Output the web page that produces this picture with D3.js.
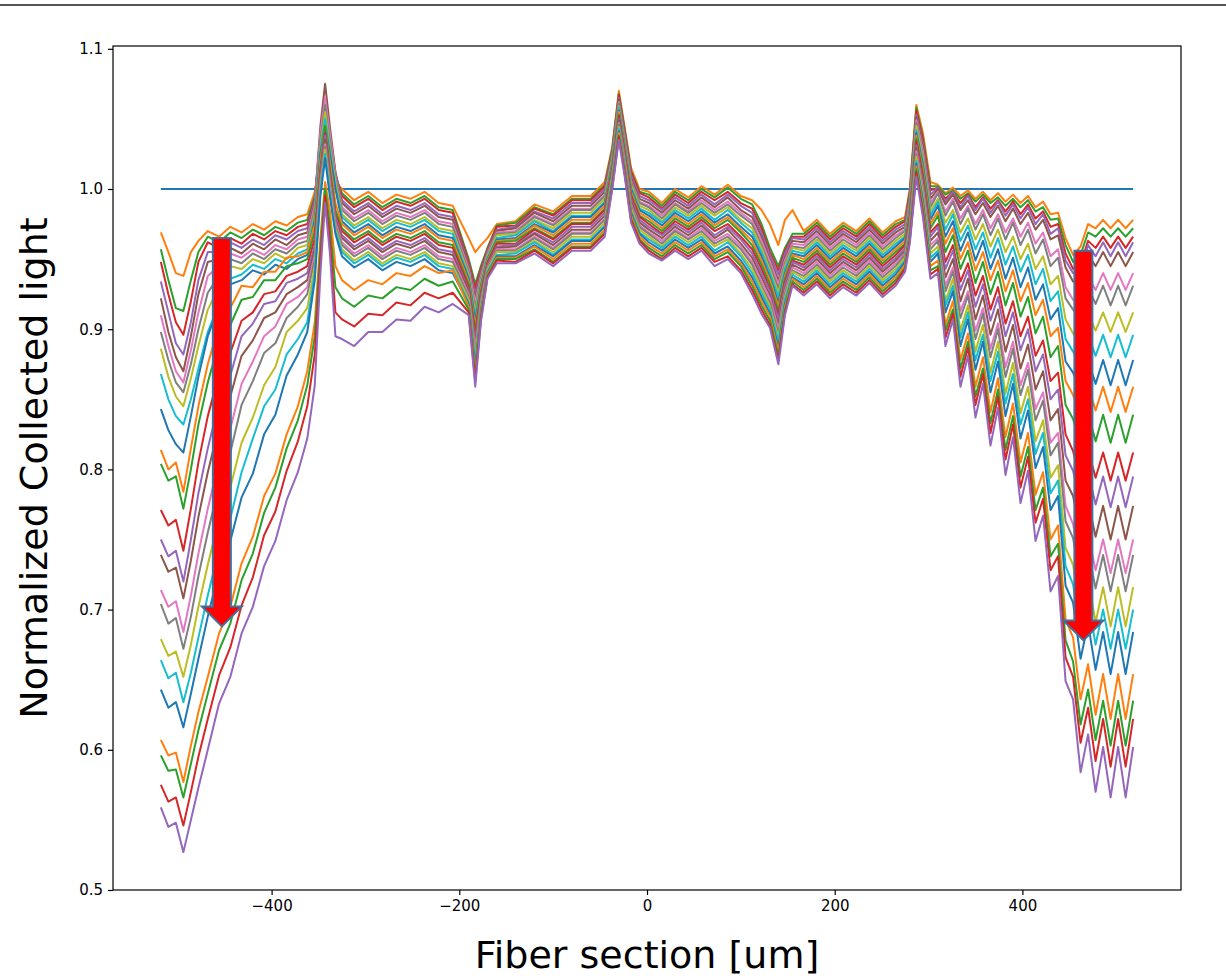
<!DOCTYPE html>
<html>
<head>
	<meta charset="utf-8">
	<title>Normalized Collected light</title>
	<style type="text/css">
body {
	margin: 0;
	background-color: white;
}

#chart {
	width: 1226px;
	height: 978px;
}

.scan {
	fill: none;
	stroke-width: 2px;
	stroke-linejoin: round;
}

.axis line {
	stroke: black;
	stroke-width: 1.2px;
}

.label {
	font-family: "DejaVu Sans", sans-serif;
	font-size: 38px;
	fill: black;
}
	</style>
</head>
<body>
	<div id="chart"></div>
	<script src="https://d3js.org/d3.v7.min.js"></script>

	<script type="text/javascript">

// position along the fiber section, um
var fiberX = [-518,-510,-502,-494,-486,-478,-468,-456,-444,-432,-420,-408,-396,-384,-372,-362,-354,-348,-343,-338,-332,
	-325,-312,-297,-282,-267,-252,-237,-222,-207,
	-190,-183,-177,-170,
	-160,-140,-120,-100,-80,-60,
	-45,-37,-30,-24,-17,-8,
	2,16,30,44,58,72,86,100,112,
	122,131,140,147,155,
	167,181,195,209,223,237,251,265,275,
	280,287,294,302,
	310,318,326,334,342,350,358,366,374,382,390,398,406,414,422,430,438,446,454,462,470,478,486,494,502,510,518];

// normalized collected light of each scan, in thousandths
var scan01 = [969,955,940,938,955,963,970,966,973,969,975,971,977,974,980,982,998,1025,1040,1025,1005,
	1000,992,998,990,996,993,998,990,988, 965,955,960,965, 975,977,989,984,995,995,
	1005,1030,1070,1045,1015,1000, 998,990,1000,994,1002,996,1003,995,992, 985,975,960,978,985,
	970,978,968,976,970,979,969,977,980, 1000,1060,1040,1005,
	1003,997,1001,995,999,993,998,992,997,991,996,990,995,987,991,982,983,965,953,959,975,972,978,972,978,972,978];
var scan02 = [957,935,915,913,935,955,966,962,969,965,971,967,973,970,976,978,995,1030,1050,1030,1008,
	997,989,995,987,993,990,995,987,985, 950,932,945,958, 974,976,987,982,993,993,
	1003,1029,1068,1043,1013,998, 996,988,998,992,1000,994,1001,993,989, 975,958,945,958,968,
	968,976,966,974,968,977,967,975,978, 998,1058,1037,1002,
	1002,996,999,993,997,991,996,990,994,988,993,987,992,984,987,978,979,960,948,953,969,966,972,966,972,966,972];
var scan03 = [948,925,905,896,920,948,962,958,965,961,968,964,970,967,973,975,993,1035,1058,1035,1010,
	995,987,993,985,991,988,993,985,983, 948,929,943,957, 973,974,986,981,992,992,
	1002,1027,1067,1042,1012,997, 994,986,996,990,998,992,998,990,986, 972,955,942,956,966,
	966,974,964,972,966,975,965,973,977, 997,1056,1035,999,
	1001,993,998,990,996,987,994,986,992,984,991,982,989,979,984,973,975,954,943,946,963,958,966,958,966,958,966];
var scan04 = [934,912,890,882,905,935,955,955,962,958,964,960,967,964,970,972,992,1040,1062,1040,1012,
	992,984,990,982,988,985,990,982,980, 946,925,941,956, 971,973,984,979,990,990,
	1000,1026,1065,1040,1010,995, 992,985,994,988,996,989,996,988,983, 969,953,939,954,965,
	964,972,962,970,964,973,963,971,975, 995,1053,1032,996,
	1001,991,998,987,995,985,993,983,991,981,989,979,987,975,982,968,972,949,940,940,960,952,962,952,962,952,962];
var scan05 = [922,898,880,870,895,925,948,950,958,954,961,957,964,960,967,969,990,1045,1075,1045,1012,
	990,982,988,980,986,983,988,980,978, 945,922,940,955, 970,972,983,977,988,988,
	998,1025,1064,1039,1008,993, 990,983,992,986,994,987,994,985,980, 966,950,935,951,963,
	962,970,960,968,962,971,961,969,973, 993,1051,1030,993,
	1000,989,996,985,992,982,990,980,988,977,986,975,983,971,978,964,967,944,934,934,953,945,955,945,955,945,955];
var scan06 = [910,888,870,862,885,912,938,945,954,951,957,953,960,957,964,966,988,1040,1065,1040,1010,
	987,979,985,977,983,980,985,977,975, 943,919,938,954, 969,970,981,975,986,986,
	996,1023,1062,1037,1006,991, 988,981,990,984,992,985,991,983,977, 963,948,932,949,961,
	960,968,958,966,960,969,959,967,971, 991,1049,1027,990,
	998,984,993,979,988,975,985,972,982,969,979,966,976,961,969,952,957,930,921,918,938,928,940,928,940,928,940];
var scan07 = [898,878,862,855,875,900,926,938,950,947,954,950,957,954,961,963,985,1035,1060,1035,1008,
	985,977,983,975,981,978,983,975,973, 941,915,936,953, 968,969,980,974,985,985,
	995,1022,1061,1036,1005,990, 987,979,989,983,990,983,989,981,975, 960,945,929,947,959,
	958,966,956,964,958,967,957,965,970, 990,1047,1024,987,
	997,981,991,975,986,971,982,967,979,964,976,960,971,954,964,945,951,922,914,908,930,918,931,917,931,917,931];
var scan08 = [886,866,852,845,865,888,914,930,945,943,950,947,954,950,958,960,982,1030,1055,1030,1005,
	982,974,980,972,978,975,980,972,970, 939,912,934,952, 967,968,978,972,983,983,
	993,1021,1059,1034,1003,988, 985,977,987,981,988,981,987,978,972, 958,942,926,945,958,
	956,964,954,962,956,965,955,963,968, 988,1045,1022,984,
	993,976,985,969,979,964,975,959,971,955,966,950,961,943,952,932,938,907,897,891,911,899,912,898,912,898,912];
var scan09 = [868,850,838,832,850,872,898,918,936,939,946,943,950,947,954,957,980,1028,1050,1028,1002,
	980,972,978,970,976,973,978,970,968, 937,909,932,951, 965,967,977,970,981,981,
	991,1020,1058,1033,1001,986, 983,976,985,979,986,978,985,976,969, 955,940,923,943,956,
	954,962,952,960,954,963,953,961,966, 986,1042,1019,981,
	991,971,982,963,974,957,969,951,965,946,959,941,953,932,943,920,927,893,884,874,896,881,896,880,896,880,896];
var scan10 = [843,828,818,812,838,866,895,917,932,935,942,939,946,943,950,953,978,1025,1045,1025,1000,
	977,969,975,967,973,970,975,967,965, 936,906,931,950, 964,965,975,969,980,980,
	990,1018,1056,1031,1000,985, 981,974,983,977,984,976,982,973,966, 952,937,919,940,954,
	952,960,950,958,952,961,951,959,965, 985,1040,1017,978,
	988,966,977,956,969,949,963,943,957,936,951,930,944,921,932,907,915,877,869,855,878,861,878,860,878,860,878];
var scan11 = [814,800,805,784,815,845,875,903,915,931,930,941,941,951,952,955,975,1020,1045,1020,990,
	975,967,973,965,971,968,973,965,963, 934,902,929,949, 963,964,974,967,978,978,
	988,1017,1055,1030,998,983, 979,972,981,975,982,974,980,971,963, 949,935,916,938,953,
	950,958,948,956,950,959,949,957,963, 983,1038,1014,975,
	984,961,972,950,962,942,955,935,949,927,942,920,933,910,921,895,901,863,853,838,860,842,859,841,859,841,859];
var scan12 = [804,792,795,772,800,832,862,891,903,921,923,935,935,945,947,950,970,1015,1045,1015,985,
	972,964,970,962,968,965,970,962,960, 932,899,927,948, 962,963,972,965,976,976,
	986,1016,1053,1028,996,981, 977,970,979,973,980,972,978,969,960, 946,932,913,936,951,
	948,956,946,954,948,957,947,955,961, 981,1036,1011,972,
	981,955,967,943,956,933,948,925,941,917,933,909,923,897,909,880,888,846,836,818,840,820,839,819,839,819,839];
var scan13 = [771,760,764,742,772,805,838,868,883,906,912,925,927,938,941,945,965,1012,1040,1012,982,
	970,962,968,960,966,963,968,960,958, 930,896,925,947, 961,961,971,964,975,975,
	985,1014,1052,1027,995,980, 975,968,977,971,978,970,975,966,957, 943,929,910,934,949,
	946,954,944,952,946,955,945,953,960, 980,1034,1009,969,
	975,948,960,934,947,924,938,914,930,904,920,895,909,881,892,863,869,825,813,793,814,794,812,792,812,792,812];
var scan14 = [750,738,742,720,750,783,815,848,867,895,904,918,920,933,936,940,960,1010,1038,1010,980,
	967,959,965,957,963,960,965,957,955, 928,892,923,946, 959,960,969,962,973,973,
	983,1013,1050,1025,993,978, 973,967,975,969,976,967,973,964,954, 940,927,907,932,948,
	944,952,942,950,944,953,943,951,958, 978,1031,1006,966,
	973,943,956,928,942,916,932,906,923,895,912,885,900,870,882,850,857,810,799,775,798,775,795,773,795,773,795];
var scan15 = [739,727,730,708,735,766,798,831,852,881,892,908,912,925,930,935,957,1008,1035,1008,978,
	965,957,963,955,961,958,963,955,953, 927,889,922,945, 958,959,968,960,971,971,
	981,1012,1049,1024,991,976, 971,965,973,967,974,965,971,961,951, 937,924,903,929,946,
	942,950,940,948,942,951,941,949,956, 976,1029,1004,963,
	969,937,950,920,936,907,924,896,914,884,903,872,889,857,870,835,843,792,781,754,777,752,774,750,774,750,774];
var scan16 = [714,702,706,684,710,740,772,806,829,861,877,895,902,918,923,930,953,1005,1032,1005,976,
	962,954,960,952,958,955,960,952,950, 925,886,920,944, 957,957,966,958,969,969,
	979,1010,1047,1022,989,974, 969,963,971,965,972,963,968,959,948, 934,922,900,927,944,
	940,948,938,946,940,949,939,947,954, 974,1027,1001,960,
	965,931,944,913,927,899,915,886,904,873,891,860,876,843,855,819,826,774,761,732,754,728,750,726,750,726,750];
var scan17 = [704,690,694,672,695,724,755,789,812,846,863,883,890,908,916,925,950,1002,1030,1002,974,
	960,952,958,950,956,953,958,950,948, 923,882,918,943, 956,956,965,957,968,968,
	978,1009,1046,1021,988,973, 968,961,970,964,970,961,966,957,946, 931,919,897,925,942,
	938,946,936,944,938,947,937,945,953, 973,1025,998,957,
	963,927,941,908,924,893,911,880,900,866,886,853,871,835,849,810,819,763,751,720,743,715,739,713,739,713,739];
var scan18 = [679,667,670,652,675,702,732,765,787,819,837,860,873,898,906,915,945,1000,1028,1000,972,
	957,949,955,947,953,950,955,947,945, 921,879,916,942, 955,955,963,955,966,966,
	976,1008,1044,1019,986,971, 966,959,968,962,968,959,964,954,943, 929,916,894,923,941,
	936,944,934,942,936,945,935,943,951, 971,1023,996,954,
	959,920,936,899,917,884,903,869,891,854,876,840,859,820,835,794,803,744,732,697,721,691,716,688,716,688,716];
var scan19 = [664,651,655,634,655,680,710,743,765,798,822,845,857,882,893,905,940,998,1025,998,970,
	955,947,953,945,951,948,953,945,943, 919,876,914,941, 953,954,962,953,964,964,
	974,1007,1043,1018,984,969, 964,958,966,960,966,956,962,952,940, 926,914,891,921,939,
	934,942,932,940,934,943,933,941,949, 969,1020,993,951,
	956,917,931,894,912,878,896,863,884,847,868,832,850,811,826,783,792,731,718,682,706,675,700,672,700,672,700];
var scan20 = [643,630,634,616,640,665,695,728,749,780,797,825,839,867,882,898,935,995,1022,995,968,
	952,944,950,942,948,945,950,942,940, 918,873,913,940, 952,952,960,952,963,963,
	973,1005,1041,1016,983,968, 962,956,964,958,964,954,959,949,937, 923,911,887,918,937,
	932,940,930,938,932,941,931,939,948, 968,1018,991,948,
	954,912,927,888,907,871,891,855,877,838,861,822,842,801,816,771,781,717,705,665,690,657,684,654,684,654,684];
var scan21 = [607,596,598,577,603,627,652,683,702,733,752,781,797,825,845,870,905,965,1005,985,945,
	935,928,935,932,940,938,945,940,942, 916,869,911,939, 951,951,959,950,961,961,
	971,1004,1040,1015,981,966, 960,954,962,956,962,952,957,947,934, 920,909,884,916,936,
	930,938,928,936,930,939,929,937,946, 966,1016,988,945,
	949,903,920,878,897,859,880,841,865,823,847,805,826,782,798,750,760,693,680,636,661,625,654,622,654,622,654];
var scan22 = [596,585,586,566,590,614,640,671,690,721,740,769,787,815,835,860,895,958,1000,975,930,
	922,916,924,922,930,928,936,931,934, 914,866,909,938, 950,950,957,948,959,959,
	969,1003,1038,1013,979,964, 958,952,960,954,960,950,955,945,931, 917,906,881,914,934,
	928,936,926,934,928,937,927,935,944, 964,1014,985,942,
	945,899,914,872,891,852,872,833,857,814,838,795,816,771,787,738,747,678,663,618,643,607,635,603,635,603,635];
var scan23 = [575,563,566,546,570,595,622,653,673,703,723,753,770,799,820,845,882,950,995,965,912,
	907,902,911,910,919,917,926,922,926, 912,863,907,937, 949,948,956,947,958,958,
	968,1001,1037,1012,978,963, 956,950,958,952,958,948,952,942,928, 914,903,878,912,932,
	926,934,924,932,926,935,925,933,943, 963,1012,983,939,
	943,894,911,866,887,846,868,826,852,807,832,787,809,762,779,728,738,666,652,605,630,592,622,588,622,588,622];
var scan24 = [559,545,548,527,550,573,600,633,652,683,702,731,749,778,798,822,860,940,990,955,895,
	893,888,898,898,907,906,916,912,918, 910,859,905,936, 947,947,954,945,956,956,
	966,1000,1035,1010,976,961, 954,949,956,950,956,945,950,940,925, 911,901,875,910,931,
	924,932,922,930,924,933,923,931,941, 961,1009,980,936,
	940,888,907,859,881,837,861,817,844,796,823,776,799,749,767,713,724,649,636,584,611,570,602,566,602,566,602];

var scans = [scan01, scan02, scan03, scan04, scan05, scan06, scan07, scan08, scan09, scan10, scan11, scan12,
	scan13, scan14, scan15, scan16, scan17, scan18, scan19, scan20, scan21, scan22, scan23, scan24];

// reference level
var refX = [-518, 518],
	refY = [1.0, 1.0];

var xTicks = [-400, -200, 0, 200, 400],
	yTicks = [0.5, 0.6, 0.7, 0.8, 0.9, 1.0, 1.1];

// the two red arrows (x in um, top and tip in light units)
var arrowX = [-453, 465],
	arrowTop = [0.965, 0.956],
	arrowTip = [0.688, 0.678];

var chart_width = 1226,
	chart_height = 978,
	plot = {left: 113, right: 1181, top: 46, bottom: 890};

var colors = d3.schemeCategory10;

var svg = d3.select("#chart")
	.append("svg")
	.attr("width", chart_width)
	.attr("height", chart_height);

svg.append("rect")
	.attr("width", chart_width)
	.attr("height", chart_height)
	.attr("fill", "white");

// thin line at the very top of the picture
svg.append("line")
	.attr("x1", 0).attr("x2", chart_width)
	.attr("y1", 5).attr("y2", 5)
	.attr("stroke", "#555")
	.attr("stroke-width", 2);

var x = d3.scaleLinear()
	.domain([-569, 569])
	.range([plot.left, plot.right]);

var y = d3.scaleLinear()
	.domain([0.5, 1.102])
	.range([plot.bottom, plot.top]);

var line = d3.line()
	.x(function(d, i) { return x(fiberX[i]); })
	.y(function(d) { return y(d / 1000); });

// reference line at 1.0 (first colour of the cycle)
svg.append("path")
	.datum(refY)
	.attr("class", "scan")
	.attr("stroke", colors[0])
	.attr("d", d3.line()
		.x(function(d, i) { return x(refX[i]); })
		.y(function(d) { return y(d); }));

// the scans, colours continue the cycle
svg.selectAll("path.run")
	.data(scans)
	.enter()
	.append("path")
	.attr("class", "scan run")
	.attr("stroke", function(d, i) { return colors[(i + 1) % 10]; })
	.attr("d", line);

// ---------------- axes -----------------
var xAxis = svg.append("g")
	.attr("class", "axis")
	.attr("transform", "translate(0," + plot.bottom + ")")
	.call(d3.axisBottom(x).tickValues(xTicks).tickSize(5).tickPadding(5).tickFormat(d3.format("d")));

var yAxis = svg.append("g")
	.attr("class", "axis")
	.attr("transform", "translate(" + plot.left + ",0)")
	.call(d3.axisLeft(y).tickValues(yTicks).tickSize(5).tickPadding(5).tickFormat(d3.format(".1f")));

xAxis.select(".domain").remove();
yAxis.select(".domain").remove();
svg.selectAll(".axis")
	.attr("font-size", 15)
	.attr("font-family", "DejaVu Sans, sans-serif");

// frame
svg.append("rect")
	.attr("x", plot.left)
	.attr("y", plot.top)
	.attr("width", plot.right - plot.left)
	.attr("height", plot.bottom - plot.top)
	.attr("fill", "none")
	.attr("stroke", "black")
	.attr("stroke-width", 1.2);

// ---------------- arrows -----------------
var shaft = 9, head = 20, headLen = 20;
svg.selectAll("polygon.arrow")
	.data(arrowX)
	.enter()
	.append("polygon")
	.attr("class", "arrow")
	.attr("points", function(d, i) {
		var cx = x(d), t = y(arrowTop[i]), tip = y(arrowTip[i]);
		return [
			[cx - shaft, t], [cx + shaft, t], [cx + shaft, tip - headLen], [cx + head, tip - headLen],
			[cx, tip], [cx - head, tip - headLen], [cx - shaft, tip - headLen]
		].map(function(p) { return p.join(","); }).join(" ");
	})
	.attr("fill", "#ff0000")
	.attr("stroke", "#41719c")
	.attr("stroke-width", 2);

// ---------------- labels -----------------
svg.append("text")
	.attr("class", "label")
	.attr("x", (plot.left + plot.right) / 2)
	.attr("y", 968)
	.attr("text-anchor", "middle")
	.text("Fiber section [um]");

svg.append("text")
	.attr("class", "label")
	.attr("transform", "translate(47," + ((plot.top + plot.bottom) / 2) + ") rotate(-90)")
	.attr("text-anchor", "middle")
	.text("Normalized Collected light");

	</script>
</body>
</html>
